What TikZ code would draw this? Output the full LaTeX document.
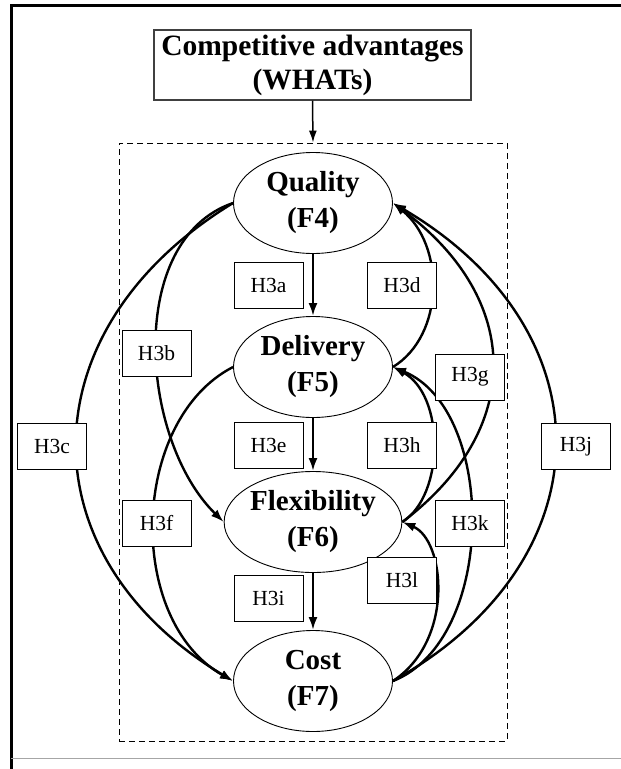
\documentclass[tikz,border=0pt]{standalone}
\usepackage{fontspec}
\setmainfont{Liberation Serif}
\usetikzlibrary{shapes.geometric,arrows.meta}
\begin{document}
\begin{tikzpicture}[x=1pt,y=-1pt,
  factor/.style={ellipse,draw,line width=0.9pt,fill=white,
    minimum width=159pt,minimum height=101pt,inner sep=0pt,align=center,
    font=\fontsize{29}{36}\selectfont\bfseries},
  titlebox/.style={rectangle,draw=black!75,line width=1.1pt,fill=white,
    minimum width=317pt,minimum height=70pt,inner sep=0pt,align=center,
    font=\fontsize{29.5}{34}\selectfont\bfseries},
  hyp/.style={rectangle,draw,line width=1pt,fill=white,
    minimum width=69pt,minimum height=46pt,inner sep=0pt,
    font=\fontsize{21.5}{26}\selectfont},
  group/.style={rectangle,draw,dashed,dash pattern=on 6pt off 4pt,line width=0.9pt,
    minimum width=388pt,minimum height=598pt,inner sep=0pt},
  link/.style={line width=2.4pt,-{Latex[length=13pt,width=9pt]}},
  feed/.style={line width=1.5pt,-{Latex[length=12pt,width=8pt]}}
]
\useasboundingbox (0,0) rectangle (621,769);

% page frame
\draw[line width=3pt] (621,5) -- (11,5) -- (11,769);
\draw[black!35,line width=1pt] (11,758) -- (621,758);

% competitive advantages and the group of factors
\node[titlebox] (T) at (312.5,65) {Competitive advantages\\(WHATs)};
\node[group] (G) at (313,442) {};
\draw[feed] (T.south) -- (G.north);

% factors
\node[factor] (Q) at (313,203) {Quality\\(F4)};
\node[factor] (D) at (313,367) {Delivery\\(F5)};
\node[factor] (F) at (313,522) {Flexibility\\(F6)};
\node[factor] (C) at (313,681) {Cost\\(F7)};

% direct paths
\draw[link] (Q) -- (D);
\draw[link] (D) -- (F);
\draw[link] (F) -- (C);

% left-hand paths
\draw[link] (Q.west) .. controls (125,240) and (140,440) .. (F.west);
\draw[link] (Q.west) .. controls (25,330) and (25,556) .. (C.west);
\draw[link] (D.west) .. controls (130,420) and (125,620) .. (C.west);

% right-hand paths
\draw[link] (D.east) .. controls (445,335) and (445,245) .. (Q.east);
\draw[link] (F.east) .. controls (524,430) and (524,300) .. (Q.east);
\draw[link] (C.east) .. controls (609,560) and (609,330) .. (Q.east);
\draw[link] (F.east) .. controls (445,495) and (445,395) .. (D.east);
\draw[link] (C.east) .. controls (497,640) and (497,410) .. (D.east);
\draw[link] (C.east) .. controls (455,640) and (445,540) .. (F.east);

% hypothesis labels
\node[hyp] (h3a) at (268.5,285) {H3a};
\node[hyp] (h3d) at (402,285) {H3d};
\node[hyp] (h3b) at (156.5,353) {H3b};
\node[hyp] (h3g) at (470,377) {H3g};
\node[hyp] (h3c) at (52,446.5) {H3c};
\node[hyp] (h3e) at (268.5,445) {H3e};
\node[hyp] (h3h) at (402,445) {H3h};
\node[hyp] (h3j) at (576,446.5) {H3j};
\node[hyp] (h3f) at (156.5,523.5) {H3f};
\node[hyp] (h3k) at (470,523.5) {H3k};
\node[hyp] (h3i) at (268.5,598) {H3i};
\node[hyp] (h3l) at (402,580) {H3l};
\end{tikzpicture}
\end{document}
